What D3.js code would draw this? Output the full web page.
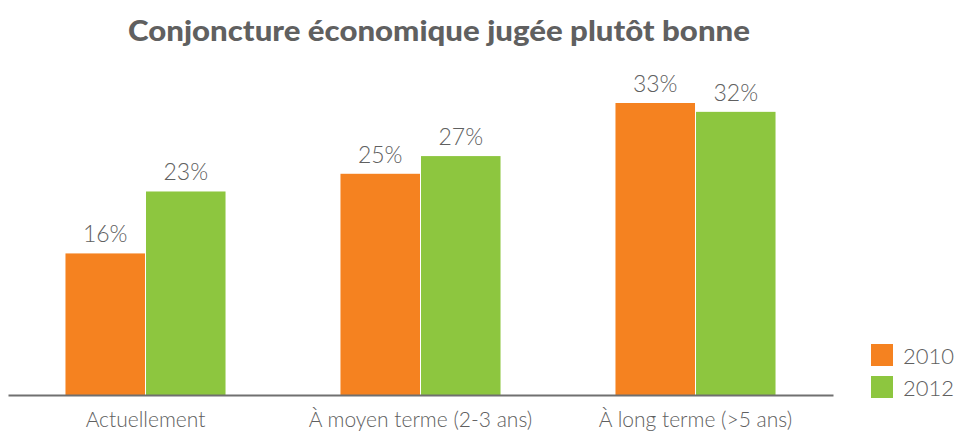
<!DOCTYPE html>
<html><head><meta charset="utf-8">
<script src="https://cdn.jsdelivr.net/npm/d3@7"></script>
<style>body{margin:0;background:#fff}svg{display:block}text{font-family:Lato,"Open Sans",sans-serif;fill:#606060}</style>
</head><body>
<svg id="c" width="955" height="438"></svg>
<script>
const title = "Conjoncture économique jugée plutôt bonne";
const categories = ["Actuellement", "À moyen terme (2-3 ans)", "À long terme (>5 ans)"];
const seriesNames = ["2010", "2012"];
const values2010 = [16, 25, 33];
const values2012 = [23, 27, 32];
const colors = ["#F58220", "#8DC63F"];

const svg = d3.select("#c");
const baseY = 395;
const x = d3.scaleBand().domain(categories).range([8, 833]).paddingInner(0.418).paddingOuter(0.209);
const xs = d3.scaleBand().domain(seriesNames).range([0, x.bandwidth()]).paddingInner(0.0125);
const y = d3.scaleLinear().domain([0, 33]).range([baseY, 103]);

const data = [];
categories.forEach((c, i) => {
  data.push({c, s: "2010", v: values2010[i], col: colors[0]});
  data.push({c, s: "2012", v: values2012[i], col: colors[1]});
});

svg.append("text").attr("x", 128).attr("y", 41)
  .attr("textLength", 622).attr("lengthAdjust", "spacingAndGlyphs")
  .style("font-weight", "900").style("font-size", "28px").text(title);

svg.selectAll("rect.bar").data(data).enter().append("rect").attr("class", "bar")
  .attr("x", d => x(d.c) + xs(d.s)).attr("width", xs.bandwidth())
  .attr("y", d => y(d.v)).attr("height", d => baseY - y(d.v)).attr("fill", d => d.col);

svg.selectAll("text.val").data(data).enter().append("text").attr("class", "val")
  .attr("x", d => x(d.c) + xs(d.s) + xs.bandwidth() / 2).attr("y", d => y(d.v) - 11)
  .attr("text-anchor", "middle").style("font-size", "23px").style("font-weight", "300").text(d => d.v + "%");

const axis = d3.axisBottom(x).tickSize(0).tickPadding(17);
const g = svg.append("g").attr("transform", `translate(0,${baseY})`).call(axis);
g.select(".domain").attr("stroke", "#707070").attr("stroke-width", 2);
g.selectAll(".tick text").style("font-size", "21px").style("font-weight", "300").style("fill", "#606060").attr("font-family", null);

const leg = svg.append("g");
seriesNames.forEach((s, i) => {
  leg.append("rect").attr("x", 871).attr("y", 344 + i * 32).attr("width", 22).attr("height", 22).attr("fill", colors[i]);
  leg.append("text").attr("x", 903).attr("y", 364 + i * 32).style("font-size", "22px").style("font-weight", "300").text(s);
});
</script>
</body></html>
